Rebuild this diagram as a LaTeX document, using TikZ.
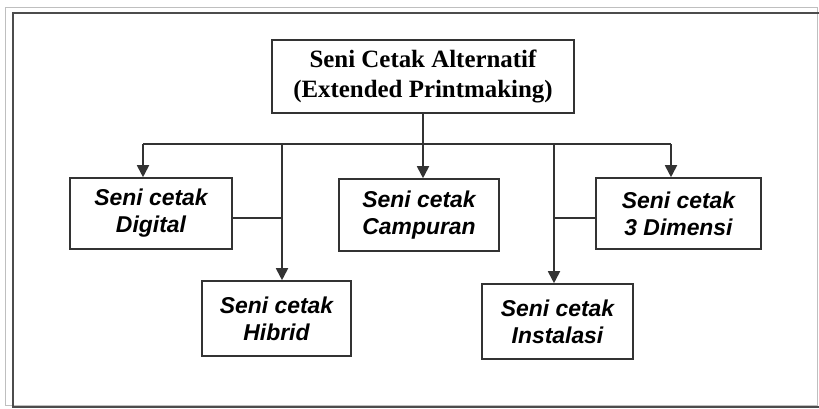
\documentclass[tikz,border=0pt]{standalone}
\usepackage{fontspec}
\setmainfont{Liberation Serif}
\newfontfamily\arialfont{Liberation Sans}
\usetikzlibrary{arrows.meta}
\tikzset{
	kotak/.style={draw=black!80, line width=1.6bp, fill=white, align=center, inner sep=0pt},
	kotakinduk/.style={kotak, font=\fontsize{25}{31}\selectfont\bfseries},
	kotakanak/.style={kotak, font=\arialfont\fontsize{23}{27}\selectfont\bfseries\itshape},
	garis/.style={draw=black!80, line width=1.8bp},
	panah/.style={garis, -{Triangle[width=12bp,length=12bp]}}
}

\begin{document}
\begin{tikzpicture}[x=1bp, y=-1bp]
		%%%%% START %%%%%
		\useasboundingbox (0, 0) rectangle (819, 408);
		
		\draw[line width=1bp, color=black!25] (5, 7) rectangle (817, 405);
		\draw[line width=2bp, color=black!70] (822, 13) -- (13, 13) -- (13, 407) -- (822, 407);
		
		\node[kotakinduk, minimum width=302bp, minimum height=73bp] (induk) at (423, 76.5) {Seni Cetak Alternatif\\(Extended Printmaking)};
		
		\node[kotakanak, minimum width=162bp, minimum height=71bp] (digital) at (151, 213.5) {Seni cetak\\Digital};
		\node[kotakanak, minimum width=149bp, minimum height=75bp] (hibrid) at (276.5, 318.5) {Seni cetak\\Hibrid};
		\node[kotakanak, minimum width=160bp, minimum height=72bp] (campuran) at (419, 215) {Seni cetak\\Campuran};
		\node[kotakanak, minimum width=151bp, minimum height=75bp] (instalasi) at (557.5, 321.5) {Seni cetak\\Instalasi};
		\node[kotakanak, minimum width=165bp, minimum height=71bp] (dimensi) at (678.5, 213.5) {Seni cetak\\3 Dimensi};
		
		\coordinate (cabang) at (423, 144);
		\coordinate (cabangkiri) at (143, 144);
		\coordinate (cabanghibrid) at (282, 144);
		\coordinate (cabanginstalasi) at (554, 144);
		\coordinate (cabangkanan) at (671, 144);
		\coordinate (sambungkiri) at (282, 218);
		\coordinate (sambungkanan) at (554, 218);
		
		\draw[garis] (induk.south -| cabang) -- (cabang);
		\draw[garis] (cabangkiri) -- (cabangkanan);
		
		\draw[panah] (cabangkiri) -- (cabangkiri |- digital.north);
		\draw[panah] (cabang) -- (cabang |- campuran.north);
		\draw[panah] (cabangkanan) -- (cabangkanan |- dimensi.north);
		\draw[panah] (cabanghibrid) -- (cabanghibrid |- hibrid.north);
		\draw[panah] (cabanginstalasi) -- (cabanginstalasi |- instalasi.north);
		
		\draw[garis] (sambungkiri -| digital.east) -- (sambungkiri);
		\draw[garis] (sambungkanan) -- (sambungkanan -| dimensi.west);
		
		%%%%% END %%%%%
	\end{tikzpicture}
\end{document}
